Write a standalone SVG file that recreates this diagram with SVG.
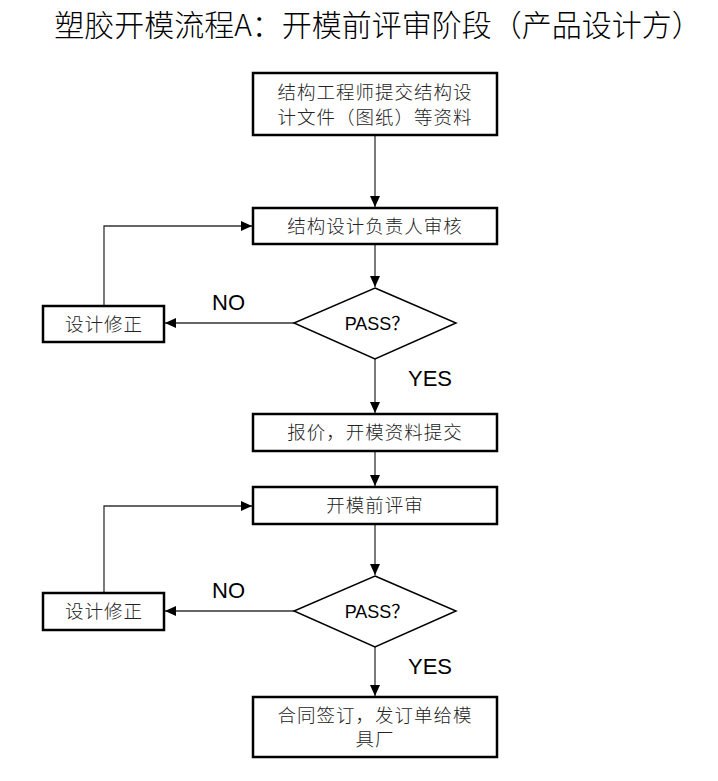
<svg xmlns="http://www.w3.org/2000/svg" width="718" height="781" viewBox="0 0 718 781">
<style>
.box{fill:#fff;stroke:#000;stroke-width:2.5}
.dia{fill:#fff;stroke:#000;stroke-width:1.5}
.cn{fill:none;stroke:#333;stroke-width:1.3}
.t{font-family:"Noto Sans CJK SC","Liberation Serif",serif;font-size:18.5px;font-weight:300;fill:#222;text-anchor:middle;letter-spacing:1px}
.s{font-family:"Liberation Sans","Noto Sans CJK SC",sans-serif;font-size:18px;fill:#000;text-anchor:middle}
.l{font-family:"Liberation Sans",sans-serif;font-size:22px;fill:#000}
.title{font-family:"Noto Sans CJK SC",sans-serif;font-size:30px;font-weight:300;fill:#000;text-anchor:middle}
</style>
<defs>
<marker id="ah" markerWidth="12" markerHeight="12" refX="11" refY="6" orient="auto" markerUnits="userSpaceOnUse">
<path d="M0,1 L11,6 L0,11 Z" fill="#000"/>
</marker>
</defs>
<rect width="718" height="781" fill="#fff"/>
<text class="title" x="378" y="36">塑胶开模流程A：开模前评审阶段（产品设计方）</text>
<g id="connectors">
<line class="cn" x1="375" y1="135" x2="375" y2="207" marker-end="url(#ah)"/>
<line class="cn" x1="375" y1="244" x2="375" y2="287" marker-end="url(#ah)"/>
<line class="cn" x1="294" y1="323" x2="165" y2="323" marker-end="url(#ah)"/>
<polyline class="cn" points="104,306 104,226 252,226" marker-end="url(#ah)"/>
<line class="cn" x1="375" y1="359" x2="375" y2="413" marker-end="url(#ah)"/>
<line class="cn" x1="375" y1="451" x2="375" y2="486" marker-end="url(#ah)"/>
<line class="cn" x1="375" y1="524" x2="375" y2="575" marker-end="url(#ah)"/>
<line class="cn" x1="294" y1="611" x2="165" y2="611" marker-end="url(#ah)"/>
<polyline class="cn" points="104,593 104,506 252,506" marker-end="url(#ah)"/>
<line class="cn" x1="375" y1="647" x2="375" y2="696" marker-end="url(#ah)"/>
<text class="l" x="212" y="310">NO</text>
<text class="l" x="408" y="386">YES</text>
<text class="l" x="212" y="598">NO</text>
<text class="l" x="408" y="674">YES</text>
</g>
<g id="n1">
<rect class="box" x="253" y="73" width="244" height="62"/>
<text class="t" x="375" y="99">结构工程师提交结构设</text>
<text class="t" x="375" y="124">计文件（图纸）等资料</text>
</g>
<g id="n2">
<rect class="box" x="253" y="208" width="244" height="36"/>
<text class="t" x="375" y="233">结构设计负责人审核</text>
</g>
<g id="d1">
<polygon class="dia" points="375,288 456,323 375,359 294,323"/>
<text class="s" x="377" y="330">PASS？</text>
</g>
<g id="f1">
<rect class="box" x="43" y="306" width="121" height="36"/>
<text class="t" x="104" y="331">设计修正</text>
</g>
<g id="n3">
<rect class="box" x="253" y="414" width="244" height="37"/>
<text class="t" x="375" y="439">报价，开模资料提交</text>
</g>
<g id="n4">
<rect class="box" x="253" y="487" width="244" height="37"/>
<text class="t" x="375" y="512">开模前评审</text>
</g>
<g id="d2">
<polygon class="dia" points="375,576 456,611 375,647 294,611"/>
<text class="s" x="377" y="618">PASS？</text>
</g>
<g id="f2">
<rect class="box" x="43" y="593" width="121" height="37"/>
<text class="t" x="104" y="618">设计修正</text>
</g>
<g id="n5">
<rect class="box" x="253" y="697" width="244" height="60"/>
<text class="t" x="375" y="722">合同签订，发订单给模</text>
<text class="t" x="375" y="746">具厂</text>
</g>
</svg>
